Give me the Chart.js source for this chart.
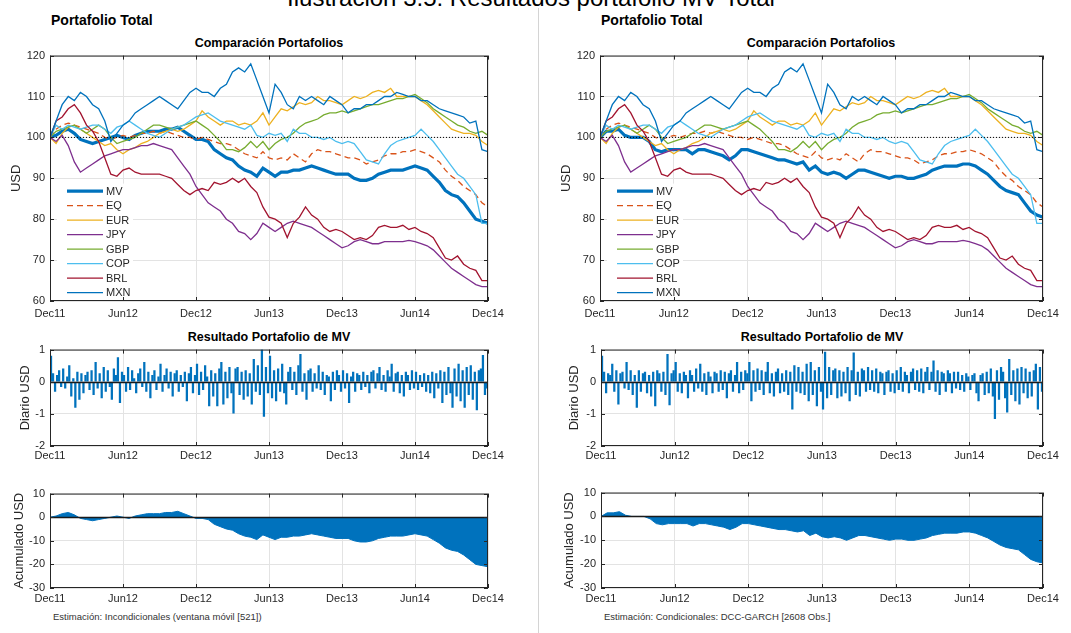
<!DOCTYPE html>
<html lang="es">
<head>
<meta charset="utf-8">
<title>Resultados portafolio MV Total</title>
<script src="https://cdn.jsdelivr.net/npm/chart.js@4.4.1/dist/chart.umd.min.js"></script>
<style>
  body { margin: 0; width: 1071px; height: 633px; overflow: hidden; position: relative; background: #fff;
         font-family: "Liberation Sans", Arial, Helvetica, sans-serif; color: #000; }
  canvas { position: absolute; }
  .t { position: absolute; white-space: nowrap; line-height: 1; }
  .c { transform: translate(-50%, -50%); }
  .sub { font-weight: bold; font-size: 12.5px; color: #000; }
  .panel { font-weight: bold; font-size: 14px; }
  .nota { font-size: 9.5px; color: #333; }
  #divisor { position: absolute; left: 538px; top: 8px; width: 1px; height: 625px; background: #d4d4d4; }
</style>
</head>
<body>
<div class="t c" style="left:531px; top:-2px; font-size:24px;">Ilustración 3.5: Resultados portafolio MV Total</div>
<div id="divisor"></div>

<div class="t panel" style="left:51px; top:13px;">Portafolio Total</div>
<div class="t panel" style="left:601px; top:13px;">Portafolio Total</div>

<div class="t c sub" style="left:269px; top:43px;">Comparación Portafolios</div>
<div class="t c sub" style="left:821px; top:43px;">Comparación Portafolios</div>
<div class="t c sub" style="left:269px; top:337px;">Resultado Portafolio de MV</div>
<div class="t c sub" style="left:822px; top:337px;">Resultado Portafolio de MV</div>

<div class="t nota" style="left:53px; top:612px;">Estimación: Incondicionales (ventana móvil [521])</div>
<div class="t nota" style="left:604px; top:612px;">Estimación: Condicionales: DCC-GARCH [2608 Obs.]</div>

<script>
// Eje temporal: meses desde Dec11, una etiqueta cada seis meses
const etiquetasX = ['Dec11', 'Jun12', 'Dec12', 'Jun13', 'Dec13', 'Jun14', 'Dec14'];
const pasoMes = 0.5;          // series de valor: un dato cada medio mes
const diasPorMes = 6;         // series diarias: seis barras por mes
const nivelBase = 100;

// Valor de cada portafolio (USD), cada medio mes desde Dec11
const mvIncond = [100, 100.5, 101.5, 102, 101, 99.5, 99, 98.5, 99, 99.5, 100, 100.5, 100, 99.5, 100.5, 101,
  101.5, 101.5, 101.5, 102, 102, 102.5, 101.5, 100.5, 99.5, 99.5, 99, 97, 96, 95, 94.5, 93, 92, 91.5, 90.5, 92.5,
  91.5, 90.5, 91.5, 91.5, 92, 92, 92.5, 93, 92.5, 92, 91.5, 91, 91, 91, 90, 89.5, 89.5, 90, 91, 91.5,
  92, 92, 92, 92.5, 93, 92.5, 92, 90.5, 89, 87, 86, 85.5, 84, 82, 80, 79.5, 79];
const mvCond = [100, 101.5, 101.5, 102, 100.5, 100, 100, 100, 99, 97, 96.5, 97, 97, 97, 97, 96, 97, 97, 96.5, 96,
  95.5, 94.5, 95.5, 97, 97, 96.5, 96, 95.5, 95, 94.5, 94.5, 94, 93.5, 94, 92, 93, 91.5, 91, 91.5, 91,
  90, 91, 92, 92, 91.5, 91, 90.5, 90, 90.5, 90.5, 90, 90, 90.5, 91, 92, 92.5, 93, 93, 93, 93.5,
  93.5, 93, 92, 91, 89.5, 88, 87, 86.5, 86, 84, 82, 81, 80.5];
const eq = [100, 102, 103, 103.5, 103, 102.5, 102, 101.5, 101, 100, 99.5, 100, 100.5, 100, 100.5, 101, 101, 101.5,
  101, 101.5, 101, 100.5, 100, 100, 99.5, 100, 99.5, 99, 98.5, 98.5, 98, 97, 96, 95.5, 95, 96.5, 95, 94.5,
  95, 94.5, 96, 95, 94, 96, 97, 96.5, 96.5, 96, 95.5, 95, 95, 94.5, 93.5, 94, 94.5, 95.5, 96, 96, 96.5,
  96.5, 97, 96.5, 96, 95, 94, 92, 90.5, 89.5, 88, 87, 86, 84, 83];
const eur = [100, 98.5, 101, 102.5, 103, 102, 101, 100, 99, 98, 98.5, 97, 96, 97, 97.5, 98.5, 99, 100, 101, 101.5,
  102, 101.5, 102, 103, 104, 106.5, 105, 104, 103, 104, 104, 103, 103.5, 103, 104, 106, 103, 105, 107, 106.5,
  107.5, 108.5, 108, 108.5, 110, 109, 109, 108.5, 108, 109, 110, 109.5, 110, 111, 111.5, 111, 112, 110, 110,
  110, 110, 109, 108, 106.5, 105, 103.5, 102, 101.5, 101, 101, 100.5, 99, 98];
const jpy = [100, 99, 100.5, 98, 94, 91.5, 92.5, 93.5, 94.5, 95.5, 96, 96.5, 97, 97, 97.5, 98, 98, 98.5, 98, 97.5,
  97, 95, 93, 91, 88, 86, 84, 83, 82, 80, 79, 77, 76.5, 75, 76.5, 79, 78, 77, 78, 79, 79.5, 79, 78.5, 78,
  77, 76, 75, 74, 73, 73.5, 74.5, 75, 74.5, 74, 74, 74.5, 74.5, 74.5, 74.5, 74.8, 74.5, 74, 73.5, 72.5, 71,
  69.5, 68, 67, 66, 65, 64, 63.5, 63.5];
const gbp = [100, 101.5, 102, 102.5, 103, 102, 101, 102, 103, 102, 100, 98.5, 99, 99.5, 100, 101, 102, 103, 103,
  102.5, 102, 102.5, 103, 103.5, 104, 103, 102, 100.5, 99, 97, 97, 96.5, 97.5, 99, 97.5, 99, 97, 98.5, 99.5,
  100, 101, 102.5, 103.5, 104, 104.5, 105.5, 106, 106, 106.5, 106, 106.5, 107, 107.5, 108, 108, 108.5, 109,
  109.5, 109.5, 110, 110.5, 109.5, 108.5, 107, 106, 105, 104, 103, 102.5, 101.5, 101, 101.5, 100.5];
const cop = [100, 103, 102, 103, 102.5, 102, 102.5, 103, 103, 102, 101, 102.5, 103, 104, 103, 102, 101, 100.5, 100,
  101, 102, 102.5, 103, 104, 105, 105.5, 106, 105, 104, 103.5, 103, 102.5, 102, 103, 100.5, 100, 101, 100.5,
  101, 99, 102, 101, 101, 100, 100, 99.5, 100, 99, 98.5, 99, 98.5, 96.5, 94.5, 94, 93.5, 96, 98, 99, 99.5,
  100, 100.5, 102, 100.5, 99, 97, 95, 93, 91, 90, 88, 86, 79, 79];
const brl = [100, 104, 105, 107, 108, 106, 103, 101.5, 99, 95, 91, 90.5, 92, 92.5, 91.5, 91, 91, 91, 91, 90.5, 90,
  88.5, 87, 86, 87, 87.5, 87, 89, 88.5, 89, 90, 89, 90, 88, 86.5, 83, 80.5, 80, 79, 75.5, 79, 80.5, 83, 81,
  80, 78, 77, 77.5, 77, 76, 75, 75.5, 75, 76, 78, 78.5, 78, 78, 78.5, 77.5, 78, 77, 76.5, 75.5, 73, 70.5,
  70, 71, 69, 68, 67.5, 65, 65];
const mxn = [100, 104, 108, 110, 109, 111, 110, 108, 107, 104, 99, 101, 103, 104, 106, 107, 108, 109, 110, 109, 108,
  107, 109, 111, 112, 111, 111, 110, 112, 113, 116, 117, 116, 118, 114, 110, 106, 113, 111, 108, 107, 110,
  109, 110, 109, 108, 110, 109, 108, 106, 107, 107, 108, 108, 109, 110, 110, 111, 110.5, 110, 110, 109, 109,
  108, 107, 106.5, 106, 105.5, 105, 103.5, 104, 97, 96.5];

// Resultado diario del portafolio MV (USD), seis barras por mes
const diarioIncond = [
  0.80, 0.25, -0.30, 0.20, 0.35, -0.15,   0.40, -0.20, 0.15, 0.50, -0.45, 0.10,
  -0.80, 0.30, -0.55, 0.25, -0.35, 0.20,  0.30, -0.25, 0.35, -0.40, 0.60, -0.20,
  0.25, -0.50, 0.45, -0.30, 0.35, -0.15,  -0.55, 0.40, 0.20, 0.75, -0.65, 0.30,
  0.20, -0.30, 0.45, -0.25, 0.35, 0.10,   -0.35, 0.25, 0.40, -0.15, 0.60, -0.30,
  0.30, -0.50, 0.20, 0.35, -0.25, 0.15,   0.55, -0.30, 0.20, 0.40, -0.20, 0.30,
  -0.45, 0.25, 0.35, -0.30, 0.20, -0.15,  0.30, -0.60, 0.25, 0.45, -0.35, 0.20,
  0.55, -0.40, 0.30, -0.25, 0.50, 0.15,   -0.75, 0.35, -0.45, 0.25, -0.75, 0.40,
  0.60, -0.70, 0.30, -0.50, 0.45, -0.35,  -0.98, 0.40, 0.45, -0.40, 0.30, -0.55,
  0.35, -0.45, 0.25, -0.70, 0.70, -0.30,  0.50, -0.40, 1.00, -1.08, 0.45, -0.35,
  0.80, -0.50, 0.35, -0.60, 0.40, -0.30,  0.55, -0.35, -0.70, 0.30, 0.45, -0.25,
  0.30, -0.40, 0.50, 0.85, -0.30, 0.25,   -0.55, 0.35, 0.40, -0.30, 0.25, -0.20,
  0.50, -0.25, 0.30, -0.40, 0.20, 0.15,   -0.60, 0.30, -0.25, 0.35, 0.20, -0.30,
  0.35, -0.20, 0.25, -0.65, 0.15, 0.30,   -0.30, 0.25, 0.20, -0.25, 0.30, -0.15,
  0.20, -0.35, 0.30, 0.35, -0.20, 0.25,   0.45, -0.25, 0.20, -0.30, 0.35, 0.15,
  0.55, -0.30, 0.25, 0.30, -0.35, 0.20,   -0.45, 0.30, 0.20, -0.25, 0.35, -0.20,
  0.30, -0.25, 0.20, -0.15, 0.25, -0.30,  0.20, -0.35, 0.30, -0.50, 0.25, -0.20,
  0.35, -0.65, 0.30, -0.40, 0.45, -0.35,  -0.80, 0.40, -0.45, 0.55, -0.60, 0.35,
  -0.80, 0.45, -0.40, 0.50, -0.55, 0.30,  -0.88, 0.35, 0.40, 0.82, -0.40, -0.20
];
const diarioCond = [
  0.80, 0.30, -0.35, 0.25, 0.20, 0.55,    -0.30, 0.35, -0.70, 0.25, 0.30, -0.20,
  0.60, -0.25, 0.35, -0.40, 0.20, -0.80,  0.35, -0.30, 0.25, 0.30, -0.35, 0.20,
  -0.45, 0.30, -0.75, 0.35, 0.25, -0.30,  0.30, -0.40, 0.85, -0.72, 0.25, 0.35,
  0.60, -0.30, 0.25, -0.35, 0.30, 0.20,   -0.50, 0.35, 0.20, -0.30, 0.40, -0.20,
  0.55, -0.30, 0.25, -0.40, 0.30, 0.15,   -0.35, 0.30, 0.25, -0.30, 0.35, -0.25,
  0.30, -0.50, 0.25, 0.35, -0.30, 0.20,   0.60, -0.35, 0.30, -0.25, 0.35, 0.25,
  0.60, -0.60, 0.35, -0.30, 0.40, -0.25,  0.35, -0.40, 0.30, 0.60, -0.35, 0.25,
  -0.45, 0.30, 0.40, -0.35, 0.25, -0.30,  0.35, -0.40, 0.30, -0.85, 0.50, -0.30,
  0.45, -0.35, 0.30, -0.40, 0.55, -0.60,  0.60, -0.40, 0.35, -0.75, 0.45, -0.30,
  -0.85, 0.92, -0.50, 0.45, -0.40, 0.35,  0.40, -0.50, 0.35, -0.45, 0.30, -0.35,
  0.45, -0.60, 0.35, 0.90, -0.40, 0.30,   -0.45, 0.40, 0.35, -0.30, 0.45, -0.25,
  0.35, -0.30, 0.40, -0.35, 0.30, 0.25,   -0.40, 0.30, 0.35, -0.30, 0.25, -0.35,
  0.35, -0.25, 0.45, -0.30, 0.30, 0.20,   -0.35, 0.30, 0.40, -0.25, 0.35, -0.30,
  0.40, -0.35, 0.30, 0.45, -0.25, 0.30,   0.65, -0.30, 0.35, -0.40, 0.30, 0.25,
  -0.30, 0.35, 0.25, -0.35, 0.30, -0.20,  0.30, -0.25, 0.20, -0.30, 0.25, 0.15,
  -0.25, 0.20, 0.25, -0.35, -0.60, 0.20,  0.25, -0.40, 0.30, -0.35, 0.40, -0.45,
  -1.15, 0.35, -0.55, 0.45, 0.30, -0.50,  -0.95, 0.70, -0.40, 0.35, -0.60, 0.40,
  -0.70, 0.45, -0.35, 0.40, -0.50, 0.30,  -0.45, 0.35, 0.55, -0.85, 0.45, -0.30
];

const azul = '#0072BD';
const colorRejilla = '#e3e3e3';
const colorMarco = '#262626';

Chart.defaults.font.family = '"Liberation Sans", Arial, Helvetica, sans-serif';
Chart.defaults.font.size = 11;
Chart.defaults.color = '#262626';
Chart.defaults.animation = false;
Chart.defaults.events = [];
Chart.defaults.plugins.legend.display = false;
Chart.defaults.plugins.tooltip.enabled = false;

const MARGEN_SUP = 10;
const MARGEN_DER = 22;
const MARGEN_INF = 24;

// Caja del eje con marcas hacia dentro en los cuatro lados, y línea de cero opcional
const marcoEjes = {
  id: 'marcoEjes',
  afterDatasetsDraw(chart, args, opts) {
    const { ctx, chartArea: a, scales } = chart;
    ctx.save();
    if (opts.lineaCero) {
      const y0 = Math.round(scales.y.getPixelForValue(0)) + 0.5;
      ctx.strokeStyle = '#1a1a1a';
      ctx.lineWidth = 1.3;
      ctx.beginPath();
      ctx.moveTo(a.left, y0);
      ctx.lineTo(a.right, y0);
      ctx.stroke();
    }
    ctx.strokeStyle = colorMarco;
    ctx.lineWidth = 1;
    ctx.strokeRect(a.left + 0.5, a.top + 0.5, a.right - a.left - 1, a.bottom - a.top - 1);
    const largo = 4;
    ctx.beginPath();
    scales.x.ticks.forEach((t) => {
      const px = Math.round(scales.x.getPixelForValue(t.value)) + 0.5;
      ctx.moveTo(px, a.top); ctx.lineTo(px, a.top + largo);
      ctx.moveTo(px, a.bottom); ctx.lineTo(px, a.bottom - largo);
    });
    scales.y.ticks.forEach((t) => {
      const py = Math.round(scales.y.getPixelForValue(t.value)) + 0.5;
      ctx.moveTo(a.left, py); ctx.lineTo(a.left + largo, py);
      ctx.moveTo(a.right, py); ctx.lineTo(a.right - largo, py);
    });
    ctx.stroke();
    ctx.restore();
  }
};

// Leyenda dentro del área de trazado, abajo a la izquierda
const leyendaInterna = {
  id: 'leyendaInterna',
  afterDatasetsDraw(chart, args, opts) {
    if (!opts.mostrar) return;
    const { ctx, chartArea: a } = chart;
    const items = chart.data.datasets.filter((d) => d.label);
    ctx.save();
    ctx.fillStyle = '#fff';
    ctx.fillRect(a.left + 7, a.top + 128, 76, 116);
    ctx.font = '11px "Liberation Sans", Arial, sans-serif';
    ctx.textBaseline = 'middle';
    items.forEach((d, i) => {
      const y = a.top + 135.5 + i * 14.5;
      ctx.strokeStyle = d.borderColor;
      ctx.lineWidth = d.borderWidth;
      ctx.setLineDash(d.borderDash || []);
      ctx.beginPath();
      ctx.moveTo(a.left + 17, y);
      ctx.lineTo(a.left + 53, y);
      ctx.stroke();
      ctx.fillStyle = '#262626';
      ctx.fillText(d.label, a.left + 56, y + 0.5);
    });
    ctx.restore();
  }
};

function ejeX(padding) {
  return {
    type: 'linear', min: 0, max: 36, offset: false,
    grid: { color: colorRejilla, drawTicks: false, offset: false },
    border: { display: false },
    ticks: { stepSize: 6, autoSkip: false, maxRotation: 0, padding, callback: (v) => etiquetasX[v / 6] },
    afterFit: (s) => { s.height = MARGEN_INF; }
  };
}

function ejeY(min, max, paso, titulo, ancho) {
  return {
    type: 'linear', min, max,
    grid: { color: colorRejilla, drawTicks: false },
    border: { display: false },
    ticks: { stepSize: paso, padding: 5, autoSkip: false },
    title: { display: true, text: titulo, font: { size: 13 }, padding: 0 },
    afterFit: (s) => { s.width = ancho; }
  };
}

// Crea un lienzo cuyo área de trazado cae en "area"; centroTitulo es la x del título del eje Y
function crearGrafico(area, centroTitulo, construir) {
  const canvas = document.createElement('canvas');
  const izq = Math.round(centroTitulo - 7.8);
  const anchoEje = area.left - izq;
  const w = anchoEje + area.width + MARGEN_DER;
  const h = MARGEN_SUP + area.height + MARGEN_INF;
  canvas.width = w;
  canvas.height = h;
  canvas.style.left = izq + 'px';
  canvas.style.top = (area.top - MARGEN_SUP) + 'px';
  canvas.style.width = w + 'px';
  canvas.style.height = h + 'px';
  document.body.appendChild(canvas);
  const config = construir(anchoEje);
  config.options.responsive = false;
  config.options.layout = { padding: { top: MARGEN_SUP, right: MARGEN_DER, left: 0, bottom: 0 } };
  config.plugins = [leyendaInterna, marcoEjes];
  return new Chart(canvas, config);
}

const porMedioMes = (valores) => valores.map((v, i) => ({ x: i * pasoMes, y: v }));

function graficoComparacion(area, centroTitulo, mv) {
  const series = [
    { label: 'MV', valores: mv, color: azul, ancho: 3.2 },
    { label: 'EQ', valores: eq, color: '#D95319', ancho: 1.3, guion: [6, 4] },
    { label: 'EUR', valores: eur, color: '#EDB120', ancho: 1.3 },
    { label: 'JPY', valores: jpy, color: '#7E2F8E', ancho: 1.3 },
    { label: 'GBP', valores: gbp, color: '#77AC30', ancho: 1.3 },
    { label: 'COP', valores: cop, color: '#4DBEEE', ancho: 1.3 },
    { label: 'BRL', valores: brl, color: '#A2142F', ancho: 1.3 },
    { label: 'MXN', valores: mxn, color: azul, ancho: 1.3 }
  ];
  const datasets = series.map((s, i) => ({
    label: s.label,
    data: porMedioMes(s.valores),
    borderColor: s.color,
    borderWidth: s.ancho,
    borderDash: s.guion || [],
    pointRadius: 0,
    tension: 0,
    order: series.length - i
  }));
  datasets.push({
    data: [{ x: 0, y: nivelBase }, { x: 36, y: nivelBase }],
    borderColor: '#000', borderWidth: 1, borderDash: [1, 2], pointRadius: 0, order: 0
  });
  return crearGrafico(area, centroTitulo, (anchoEje) => ({
    type: 'line',
    data: { datasets },
    options: {
      scales: { x: ejeX(6), y: ejeY(60, 120, 10, 'USD', anchoEje) },
      plugins: { leyendaInterna: { mostrar: true } }
    }
  }));
}

function graficoDiario(area, centroTitulo, valores) {
  return crearGrafico(area, centroTitulo, (anchoEje) => ({
    type: 'bar',
    data: {
      datasets: [{
        data: valores.map((v, i) => ({ x: (i + 0.5) / diasPorMes, y: v })),
        backgroundColor: azul,
        barThickness: 1.6
      }]
    },
    options: {
      scales: { x: ejeX(3), y: ejeY(-2, 1, 1, 'Diario USD', anchoEje) },
      plugins: { marcoEjes: { lineaCero: true } }
    }
  }));
}

function graficoAcumulado(area, centroTitulo, mv) {
  return crearGrafico(area, centroTitulo, (anchoEje) => ({
    type: 'line',
    data: {
      datasets: [{
        data: porMedioMes(mv.map((v) => v - nivelBase)),
        borderColor: azul,
        backgroundColor: azul,
        borderWidth: 1,
        fill: 'origin',
        pointRadius: 0,
        tension: 0
      }]
    },
    options: {
      scales: { x: ejeX(4), y: ejeY(-30, 10, 10, 'Acumulado USD', anchoEje) },
      plugins: { marcoEjes: { lineaCero: true } }
    }
  }));
}

// Panel izquierdo: covarianzas incondicionales
graficoComparacion({ left: 50, top: 54, width: 438, height: 247 }, 17, mvIncond);
graficoDiario({ left: 50, top: 348, width: 438, height: 98 }, 26, diarioIncond);
graficoAcumulado({ left: 50, top: 492, width: 438, height: 96 }, 20, mvIncond);

// Panel derecho: DCC-GARCH
graficoComparacion({ left: 600, top: 54, width: 443, height: 247 }, 567, mvCond);
graficoDiario({ left: 601, top: 348, width: 442, height: 98 }, 575, diarioCond);
graficoAcumulado({ left: 601, top: 491, width: 442, height: 97 }, 570, mvCond);
</script>
</body>
</html>
